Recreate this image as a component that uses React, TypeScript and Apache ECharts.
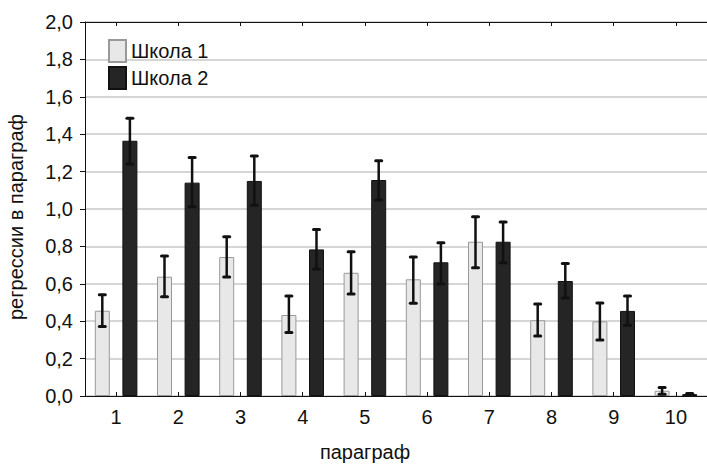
import React, { useEffect, useRef } from "react";
import * as echarts from "echarts";

const categories = ["1", "2", "3", "4", "5", "6", "7", "8", "9", "10"];
const school1 = [0.456, 0.638, 0.743, 0.433, 0.659, 0.624, 0.825, 0.405, 0.399, 0.028];
const school1Low = [0.371, 0.531, 0.636, 0.34, 0.545, 0.496, 0.686, 0.321, 0.299, 0.01];
const school1High = [0.542, 0.749, 0.852, 0.535, 0.772, 0.743, 0.959, 0.492, 0.497, 0.046];
const school2 = [1.365, 1.141, 1.15, 0.784, 1.155, 0.715, 0.825, 0.615, 0.455, 0.01];
const school2Low = [1.241, 1.012, 1.02, 0.679, 1.048, 0.599, 0.713, 0.524, 0.378, 0.006];
const school2High = [1.485, 1.276, 1.283, 0.891, 1.258, 0.82, 0.93, 0.708, 0.535, 0.014];
const seriesNames = ["Школа 1", "Школа 2"];
const xTitle = "параграф";
const yTitle = "регрессии в параграф";

const FONT = "'Liberation Sans', Arial, sans-serif";
const FS = 20;
const BAR_W = 15;
const OFFSET = 13.8;

function errorRender(offset: number) {
  return (params: any, api: any) => {
    const x = api.value(0);
    const lo = api.coord([x, api.value(1)]);
    const hi = api.coord([x, api.value(2)]);
    const cx = lo[0] + offset;
    const stroke = "#111";
    return {
      type: "group",
      children: [
        { type: "line", shape: { x1: cx, y1: hi[1], x2: cx, y2: lo[1] }, style: { stroke, lineWidth: 2.5 } },
        { type: "line", shape: { x1: cx - 3, y1: hi[1], x2: cx + 3, y2: hi[1] }, style: { stroke, lineWidth: 3, lineCap: "round" } },
        { type: "line", shape: { x1: cx - 3, y1: lo[1], x2: cx + 3, y2: lo[1] }, style: { stroke, lineWidth: 3, lineCap: "round" } },
      ],
    };
  };
}

export default function App() {
  const ref = useRef<HTMLDivElement>(null);
  useEffect(() => {
    if (!ref.current) return;
    const chart = echarts.init(ref.current, null, { renderer: "svg" });
    const err1 = categories.map((_, i) => [i, school1Low[i], school1High[i]]);
    const err2 = categories.map((_, i) => [i, school2Low[i], school2High[i]]);
    chart.setOption({
      animation: false,
      backgroundColor: "#ffffff",
      textStyle: { fontFamily: FONT },
      grid: { left: 85, top: 22, width: 629, height: 374 },
      legend: {
        data: seriesNames,
        orient: "vertical",
        left: 108,
        top: 39,
        itemWidth: 17,
        itemHeight: 22,
        itemGap: 3,
        icon: "rect",
        padding: 0,
        textStyle: { fontFamily: FONT, fontSize: FS, color: "#111" },
      },
      xAxis: [
        {
          type: "category",
          data: categories,
          position: "bottom",
          axisLine: { show: true, lineStyle: { color: "#111", width: 1 } },
          axisTick: { show: true, alignWithLabel: true, inside: true, length: 4, lineStyle: { color: "#111" } },
          axisLabel: { fontFamily: FONT, fontSize: FS, color: "#111", margin: 11 },
          splitLine: { show: false },
        },
        {
          type: "category",
          data: categories,
          position: "top",
          axisLine: { show: true, lineStyle: { color: "#111", width: 1 } },
          axisTick: { show: true, alignWithLabel: true, inside: true, length: 4, lineStyle: { color: "#111" } },
          axisLabel: { show: false },
          splitLine: { show: false },
        },
      ],
      yAxis: {
        type: "value",
        min: 0,
        max: 2,
        interval: 0.2,
        axisLine: { show: true, lineStyle: { color: "#111", width: 1 } },
        axisTick: { show: true, inside: false, length: 5, lineStyle: { color: "#111" } },
        axisLabel: {
          fontFamily: FONT,
          fontSize: FS,
          color: "#111",
          margin: 12,
          formatter: (v: number) => v.toFixed(1).replace(".", ","),
        },
        splitLine: { show: true, lineStyle: { color: "#c8c8c8", width: 1.5 } },
      },
      graphic: [
        {
          type: "text",
          x: 365,
          y: 452,
          style: { text: xTitle, font: `${FS}px ${FONT}`, fill: "#111", textAlign: "center", textVerticalAlign: "middle" },
        },
        {
          type: "text",
          x: 16,
          y: 217,
          rotation: Math.PI / 2,
          style: { text: yTitle, font: `${FS}px ${FONT}`, fill: "#111", textAlign: "center", textVerticalAlign: "middle" },
        },
      ],
      series: [
        {
          name: seriesNames[0],
          type: "bar",
          data: school1,
          barWidth: BAR_W,
          barGap: "84%",
          itemStyle: { color: "#e8e8e8", borderColor: "#999999", borderWidth: 1 },
        },
        {
          name: seriesNames[1],
          type: "bar",
          data: school2,
          barWidth: BAR_W,
          barGap: "84%",
          itemStyle: { color: "#252525", borderColor: "#111111", borderWidth: 1 },
        },
        {
          type: "custom",
          name: "err1",
          data: err1,
          encode: { x: 0, y: [1, 2] },
          renderItem: errorRender(-OFFSET),
          z: 5,
        },
        {
          type: "custom",
          name: "err2",
          data: err2,
          encode: { x: 0, y: [1, 2] },
          renderItem: errorRender(OFFSET),
          z: 5,
        },
      ],
    });
    return () => chart.dispose();
  }, []);
  return (
    <div
      ref={ref}
      style={{ position: "fixed", left: 0, top: 0, width: 707, height: 469 }}
    />
  );
}
